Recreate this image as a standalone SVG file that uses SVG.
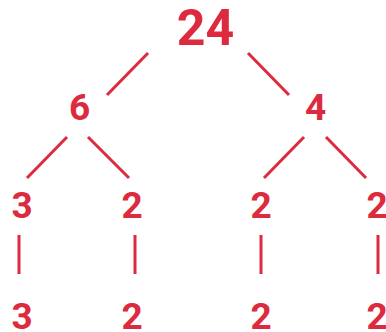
<svg xmlns="http://www.w3.org/2000/svg" width="386" height="332" viewBox="0 0 386 332">
<style>
.t{font-family:Roboto,"Liberation Sans",sans-serif;font-weight:bold;fill:#DC2A3E;text-anchor:middle}
.s{font-size:37px}
.b{font-size:50px}
.c line{stroke:#DC2A3E;stroke-width:3;stroke-linecap:butt}
</style>
<rect width="386" height="332" fill="#fff"/>
<g class="c" id="connectors">
<line x1="148" y1="53" x2="107" y2="95"/>
<line x1="248" y1="53" x2="289" y2="95"/>
<line x1="67" y1="137" x2="27" y2="178"/>
<line x1="88" y1="137" x2="129" y2="178"/>
<line x1="304" y1="137" x2="264" y2="178"/>
<line x1="326" y1="137" x2="366" y2="178"/>
<line x1="19" y1="235" x2="19" y2="274"/>
<line x1="135" y1="235" x2="135" y2="274"/>
<line x1="261" y1="235" x2="261" y2="274"/>
<line x1="378" y1="235" x2="378" y2="274"/>
</g>
<g id="n24"><text class="t b" x="205.5" y="45">24</text></g>
<g id="n6"><text class="t s" x="79.5" y="120">6</text></g>
<g id="n4"><text class="t s" x="315.5" y="120">4</text></g>
<g id="n3a"><text class="t s" x="22" y="218">3</text></g>
<g id="n2a"><text class="t s" x="132" y="218">2</text></g>
<g id="n2b"><text class="t s" x="261" y="218">2</text></g>
<g id="n2c"><text class="t s" x="377" y="218">2</text></g>
<g id="n3b"><text class="t s" x="22" y="329">3</text></g>
<g id="n2d"><text class="t s" x="132" y="329">2</text></g>
<g id="n2e"><text class="t s" x="261" y="329">2</text></g>
<g id="n2f"><text class="t s" x="377" y="329">2</text></g>
</svg>
